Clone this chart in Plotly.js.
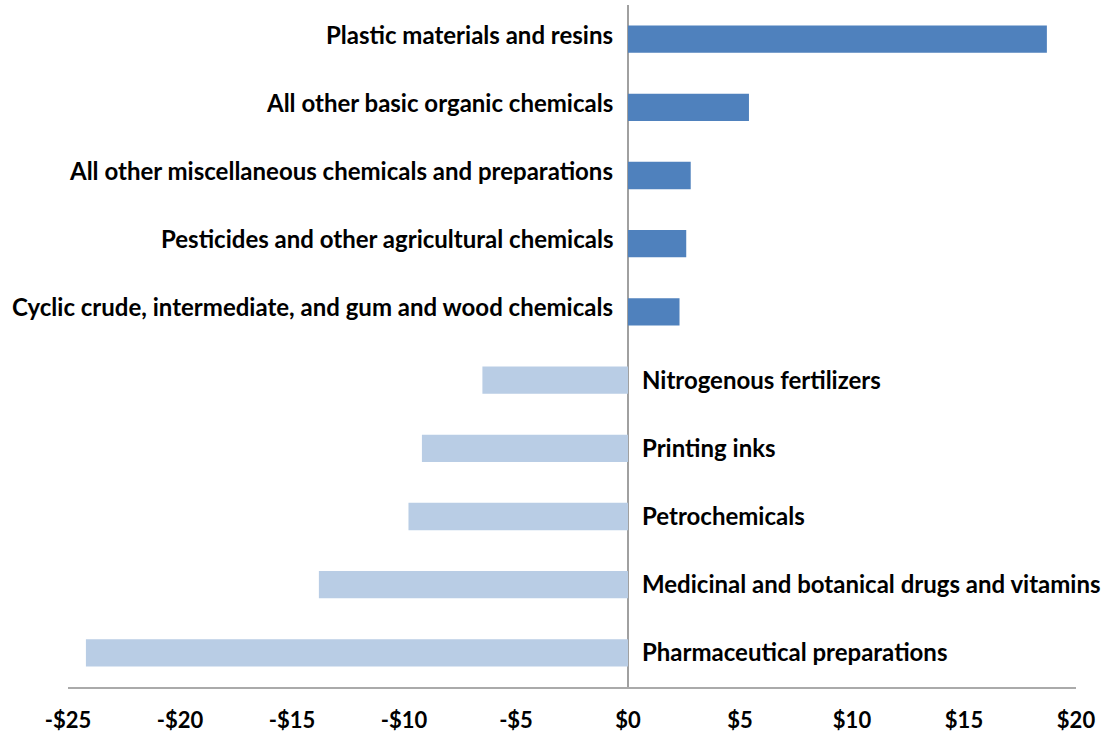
<!DOCTYPE html>
<html>
<head>
<meta charset="utf-8">
<script src="https://cdn.plot.ly/plotly-3.0.1.min.js"></script>
<style>html,body{margin:0;padding:0;background:#fff;}#chart{width:1107px;height:734px;}</style>
</head>
<body>
<div id="chart"></div>
<script>
var categories = [
  "Plastic materials and resins",
  "All other basic organic chemicals",
  "All other miscellaneous chemicals and preparations",
  "Pesticides and other agricultural chemicals",
  "Cyclic crude, intermediate, and gum and wood chemicals",
  "Nitrogenous fertilizers",
  "Printing inks",
  "Petrochemicals",
  "Medicinal and botanical drugs and vitamins",
  "Pharmaceutical preparations"
];
var values = [18.7, 5.4, 2.8, 2.6, 2.3, -6.5, -9.2, -9.8, -13.8, -24.2];
var tickValues = [-25, -20, -15, -10, -5, 0, 5, 10, 15, 20];
var tickLabels = ["-$25", "-$20", "-$15", "-$10", "-$5", "$0", "$5", "$10", "$15", "$20"];

var FONT = "Lato, 'Open Sans', sans-serif";
var colors = values.map(function(v){ return v >= 0 ? "#4F81BD" : "#B9CDE5"; });

var trace = {
  type: "bar",
  orientation: "h",
  x: values,
  y: categories,
  width: 0.4,
  marker: {color: colors, line: {width: 0}},
  hoverinfo: "x+y"
};

var annotations = categories.map(function(c, i){
  var pos = values[i] >= 0;
  return {
    x: 0, y: c, xref: "x", yref: "y",
    text: "<b>" + c + "</b>",
    showarrow: false,
    xanchor: pos ? "right" : "left",
    xshift: pos ? -13 : 12,
    yshift: pos ? 5 : 1,
    yanchor: "middle",
    font: {family: FONT, size: 24, color: "#000000"}
  };
});

var layout = {
  width: 1107, height: 734,
  margin: {l: 68, r: 31, t: 5, b: 47, pad: 0},
  paper_bgcolor: "#ffffff",
  plot_bgcolor: "#ffffff",
  showlegend: false,
  bargap: 0.6,
  xaxis: {
    range: [-25, 20],
    tickvals: tickValues,
    ticktext: tickLabels,
    showgrid: false,
    zeroline: true,
    zerolinecolor: "#a0a0a0",
    zerolinewidth: 1.5,
    showline: true,
    linecolor: "#aaaaaa",
    linewidth: 2,
    ticks: "",
    ticklen: 0,
    ticklabelstandoff: 13,
    tickfont: {family: FONT, size: 22, color: "#000000", weight: "bold"},
    fixedrange: true
  },
  yaxis: {
    type: "category",
    autorange: "reversed",
    showticklabels: false,
    showgrid: false,
    zeroline: false,
    showline: false,
    ticks: "",
    fixedrange: true
  },
  annotations: annotations
};

Plotly.newPlot("chart", [trace], layout, {displayModeBar: false, staticPlot: true});
</script>
</body>
</html>
